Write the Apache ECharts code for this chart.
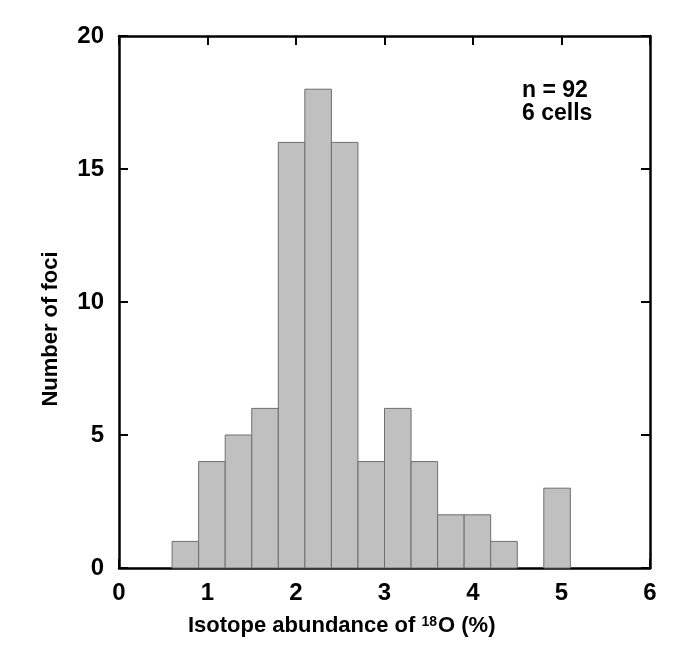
<!DOCTYPE html>
<html><head><meta charset="utf-8">
<script src="https://cdn.jsdelivr.net/npm/echarts@6/dist/echarts.min.js"></script>
<style>html,body{margin:0;padding:0;background:#fff}#c{width:680px;height:665px}</style>
</head><body><div id="c"></div>
<script>
const binStarts = [0.6, 0.9, 1.2, 1.5, 1.8, 2.1, 2.4, 2.7, 3.0, 3.3, 3.6, 3.9, 4.2, 4.8];
const counts    = [1,   4,   5,   6,   16,  18,  16,  4,   6,   4,   2,   2,   1,   3];
const binWidth = 0.3;
const annotation = ['n = 92', '6 cells'];
const xTitleParts = ['Isotope abundance of ', '18', 'O (%)'];
const yTitle = 'Number of foci';

const font = '"Liberation Sans", Arial, sans-serif';
const data = binStarts.map((s, i) => [s, s + binWidth, counts[i]]);

const axisCommon = {
  axisLine: {show: true, onZero: false, lineStyle: {color: '#000', width: 2.5}},
  axisTick: {show: true, inside: true, length: 9, lineStyle: {color: '#000', width: 2}},
  splitLine: {show: false}
};
const tickLabel = {color: '#000', fontFamily: font, fontWeight: 'bold', fontSize: 24};

const chart = echarts.init(document.getElementById('c'));
chart.setOption({
  animation: false,
  backgroundColor: '#fff',
  grid: {left: 119, right: 30, top: 36, bottom: 97},
  xAxis: [
    Object.assign({type: 'value', min: 0, max: 6, interval: 1, position: 'bottom',
      axisLabel: Object.assign({margin: 13}, tickLabel)}, axisCommon),
    Object.assign({type: 'value', min: 0, max: 6, interval: 1, position: 'top',
      axisLabel: {show: false}}, axisCommon)
  ],
  yAxis: [
    Object.assign({type: 'value', min: 0, max: 20, interval: 5, position: 'left',
      axisLabel: Object.assign({margin: 15}, tickLabel)}, axisCommon),
    Object.assign({type: 'value', min: 0, max: 20, interval: 5, position: 'right',
      axisLabel: {show: false}}, axisCommon)
  ],
  series: [{
    type: 'custom',
    xAxisIndex: 0, yAxisIndex: 0,
    data: data,
    encode: {x: [0, 1], y: 2},
    renderItem: function (params, api) {
      const p0 = api.coord([api.value(0), api.value(2)]);
      const p1 = api.coord([api.value(1), 0]);
      return {
        type: 'rect',
        shape: {x: p0[0], y: p0[1], width: p1[0] - p0[0], height: p1[1] - p0[1]},
        style: {fill: '#c0c0c0', stroke: '#6e6e6e', lineWidth: 1}
      };
    },
    z: 1
  }],
  graphic: [{
    type: 'text', left: 522, top: 79, z: 10,
    style: {text: annotation.join('\n'), font: 'bold 23px ' + font, fill: '#000', lineHeight: 23}
  }, {
    type: 'text', left: 188, top: 615, z: 10,
    style: {
      text: '{a|' + xTitleParts[0] + '}{s|' + xTitleParts[1] + '}{a|' + xTitleParts[2] + '}',
      rich: {
        a: {fontFamily: font, fontWeight: 'bold', fontSize: 22, fill: '#000', color: '#000'},
        s: {fontFamily: font, fontWeight: 'bold', fontSize: 14, fill: '#000', color: '#000', verticalAlign: 'top', padding: [0, 1, 8, 0]}
      }
    }
  }, {
    type: 'text', z: 10,
    x: 51, y: 329, rotation: Math.PI / 2,
    style: {text: yTitle, font: 'bold 22px ' + font, fill: '#000', align: 'center', verticalAlign: 'middle'}
  }]
});
</script></body></html>
